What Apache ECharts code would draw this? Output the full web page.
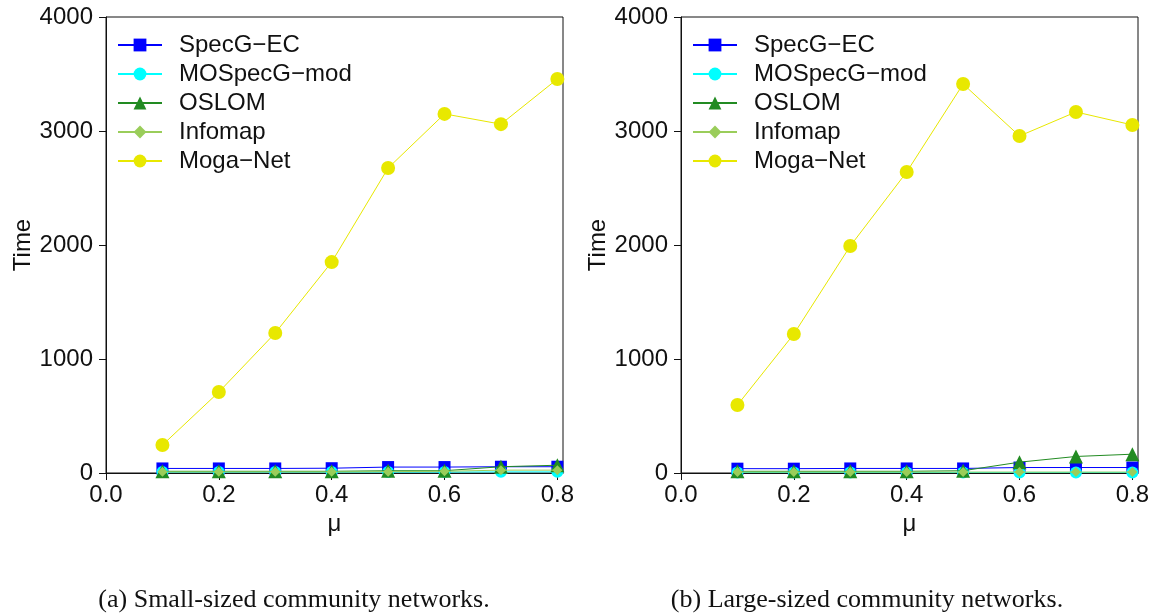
<!DOCTYPE html>
<html>
<head>
<meta charset="utf-8">
<style>
  html, body { margin: 0; padding: 0; background: #fff; }
  #chart { width: 1156px; height: 615px; }
</style>
<script src="https://cdn.jsdelivr.net/npm/echarts@6/dist/echarts.min.js"></script>
</head>
<body>
<div id="chart"></div>
<script>
// Mixing parameter mu on the x axis
const mu = [0.1, 0.2, 0.3, 0.4, 0.5, 0.6, 0.7, 0.8];
const xTicks = [0.0, 0.2, 0.4, 0.6, 0.8];
const yTicks = [0, 1000, 2000, 3000, 4000];

const methods = ['SpecG\u2212EC', 'MOSpecG\u2212mod', 'OSLOM', 'Infomap', 'Moga\u2212Net'];

// Running time, small-sized community networks
const smallSpecG = [40, 40, 40, 42, 52, 52, 55, 55];
const smallMOSpecG = [8, 8, 8, 8, 8, 8, 10, 10];
const smallOSLOM = [15, 15, 15, 15, 20, 20, 55, 68];
const smallInfomap = [10, 10, 10, 10, 12, 15, 25, 25];
const smallMoga = [245, 710, 1228, 1850, 2675, 3150, 3060, 3456];

// Running time, large-sized community networks
const largeSpecG = [38, 38, 40, 40, 40, 48, 48, 48];
const largeMOSpecG = [5, 5, 5, 5, 5, 5, 5, 5];
const largeOSLOM = [15, 15, 15, 15, 20, 95, 145, 165];
const largeInfomap = [8, 8, 8, 8, 8, 8, 8, 8];
const largeMoga = [596, 1219, 1991, 2640, 3412, 2956, 3167, 3053];

const captions = ['(a) Small-sized community networks.', '(b) Large-sized community networks.'];

const FONT = '"Liberation Sans", Arial, Helvetica, sans-serif';
const colors = ['#0000ff', '#00ffff', '#228b22', '#9acd5a', '#e8e800'];
const symbols = ['rect', 'circle', 'triangle', 'diamond', 'circle'];
const symbolSizes = [12, 12, 14, 10, 14];

const panels = [
  { left: 106, data: [smallSpecG, smallMOSpecG, smallOSLOM, smallInfomap, smallMoga] },
  { left: 681, data: [largeSpecG, largeMOSpecG, largeOSLOM, largeInfomap, largeMoga] }
];

const grids = [], xAxes = [], yAxes = [], series = [], legends = [];

panels.forEach((p, gi) => {
  grids.push({
    left: p.left, top: 17, width: 457, height: 456,
    show: true, borderColor: '#111', borderWidth: 1, backgroundColor: '#fff'
  });
  xAxes.push({
    gridIndex: gi, type: 'value', min: 0, max: 0.81,
    name: '\u03bc', nameLocation: 'middle', nameGap: 36,
    nameTextStyle: { fontFamily: FONT, fontSize: 24, color: '#111' },
    axisLine: { show: true, onZero: false, lineStyle: { color: '#111', width: 1 } },
    axisTick: { show: true, inside: false, length: 7, customValues: xTicks, lineStyle: { color: '#111' } },
    axisLabel: {
      customValues: xTicks, margin: 10,
      fontFamily: FONT, fontSize: 24, color: '#111',
      formatter: v => v.toFixed(1)
    },
    splitLine: { show: false }
  });
  yAxes.push({
    gridIndex: gi, type: 'value', min: 0, max: 4000, interval: 1000,
    name: 'Time', nameLocation: 'middle', nameGap: 66, nameRotate: 90,
    nameTextStyle: { fontFamily: FONT, fontSize: 24, color: '#111' },
    axisLine: { show: true, lineStyle: { color: '#111', width: 1 } },
    axisTick: { show: true, length: 7, customValues: yTicks, lineStyle: { color: '#111' } },
    axisLabel: { margin: 13, fontFamily: FONT, fontSize: 24, color: '#111',
      customValues: yTicks, formatter: v => String(Math.round(v)) },
    splitLine: { show: false }
  });
  methods.forEach((name, si) => {
    series.push({
      name, type: 'line', xAxisIndex: gi, yAxisIndex: gi,
      data: mu.map((m, k) => [m, p.data[si][k]]),
      symbol: symbols[si], symbolSize: symbolSizes[si],
      showAllSymbol: true,
      lineStyle: { color: colors[si], width: 1 },
      itemStyle: { color: colors[si] },
      z: 2 + si
    });
  });
  legends.push({
    orient: 'vertical', left: p.left + 6, top: 28,
    data: methods,
    itemWidth: 44, itemHeight: 16, itemGap: 5,
    textStyle: { fontFamily: FONT, fontSize: 24, color: '#111', padding: [0, 0, 0, 12] },
    backgroundColor: 'transparent', borderWidth: 0,
    selectedMode: false
  });
});

const chart = echarts.init(document.getElementById('chart'), null, { renderer: 'canvas' });
chart.setOption({
  animation: false,
  backgroundColor: '#fff',
  grid: grids,
  xAxis: xAxes,
  yAxis: yAxes,
  legend: legends,
  series,
  graphic: captions.map((t, i) => ({
    type: 'text',
    x: i === 0 ? 294 : 867, y: 600,
    style: {
      text: t, textAlign: 'center', textVerticalAlign: 'middle',
      font: '26px "Liberation Serif", "DejaVu Serif", serif', fill: '#111'
    }
  }))
});
</script>
</body>
</html>
